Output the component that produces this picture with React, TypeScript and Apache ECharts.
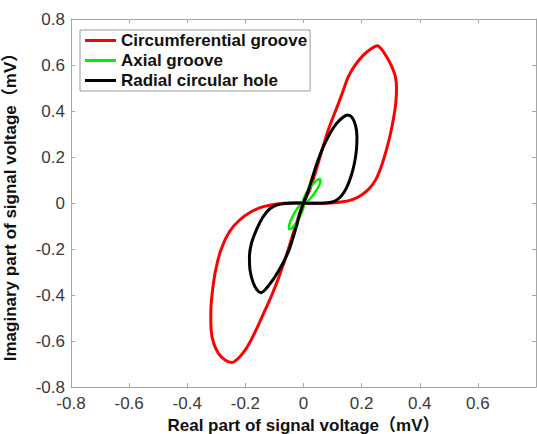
import React, { useEffect, useRef } from "react";
import * as echarts from "echarts";

// Real / imaginary parts of the eddy-current signal (mV) for each defect type.
const circumRe = [
  0, 0.046, 0.092, 0.135, 0.17, 0.2, 0.228, 0.25, 0.268, 0.285, 0.299, 0.31, 0.318, 0.32,
  0.316, 0.303, 0.286, 0.269, 0.254, 0.234, 0.206, 0.177, 0.154, 0.137, 0.12, 0.102, 0.089,
  0.074, 0.057, 0.04, 0.022, 0.008, 0, -0.008, -0.02, -0.036, -0.052, -0.069, -0.087, -0.109,
  -0.132, -0.155, -0.178, -0.201, -0.224, -0.247, -0.27, -0.292, -0.309, -0.318, -0.319,
  -0.314, -0.302, -0.283, -0.255, -0.22, -0.18, -0.138, -0.092, -0.046, 0,
];
const circumIm = [
  0, -0.001, 0, 0.005, 0.016, 0.035, 0.065, 0.105, 0.16, 0.23, 0.3, 0.37, 0.44, 0.5, 0.55,
  0.595, 0.636, 0.668, 0.684, 0.672, 0.643, 0.598, 0.548, 0.49, 0.432, 0.374, 0.331, 0.273,
  0.201, 0.129, 0.06, 0.02, 0, -0.025, -0.07, -0.135, -0.2, -0.265, -0.33, -0.4, -0.465,
  -0.53, -0.59, -0.64, -0.675, -0.694, -0.683, -0.655, -0.61, -0.55, -0.48, -0.39, -0.29,
  -0.2, -0.125, -0.074, -0.038, -0.016, -0.004, 0, 0,
];

const axialRe = [
  0, 0.0087, 0.0228, 0.0384, 0.0513, 0.0582, 0.057, 0.0483, 0.0342, 0.0187, 0.0057, -0.0012,
  0, -0.0075, -0.0196, -0.033, -0.0441, -0.0501, -0.049, -0.0415, -0.0294, -0.0161, -0.0049,
  0.001, 0,
];
const axialIm = [
  0, 0.0027, 0.0185, 0.0433, 0.0704, 0.0925, 0.1039, 0.1012, 0.0854, 0.0606, 0.0335, 0.0114,
  0, -0.003, -0.0204, -0.0476, -0.0774, -0.1018, -0.1143, -0.1113, -0.0939, -0.0667, -0.0369,
  -0.0125, 0,
];

const radialRe = [
  0, 0.03, 0.06, 0.09, 0.113, 0.131, 0.148, 0.163, 0.175, 0.182, 0.184, 0.179, 0.167, 0.152,
  0.137, 0.114, 0.091, 0.068, 0.046, 0.028, 0.013, 0, -0.012, -0.024, -0.037, -0.05, -0.066,
  -0.087, -0.109, -0.132, -0.147, -0.16, -0.174, -0.184, -0.186, -0.179, -0.162, -0.14,
  -0.116, -0.09, -0.06, -0.03, 0,
];
const radialIm = [
  0, -0.001, -0.001, 0.002, 0.012, 0.032, 0.066, 0.114, 0.172, 0.23, 0.288, 0.338, 0.372,
  0.383, 0.374, 0.346, 0.302, 0.244, 0.172, 0.1, 0.042, 0, -0.045, -0.1, -0.155, -0.205,
  -0.25, -0.298, -0.341, -0.377, -0.39, -0.378, -0.343, -0.292, -0.233, -0.175, -0.117,
  -0.062, -0.025, -0.008, -0.002, 0, 0,
];

const seriesNames = ["Circumferential groove", "Axial groove", "Radial circular hole"];
const seriesColors = ["#ff0000", "#00ee00", "#000000"];
const seriesWidths = [3, 2.5, 3];

const zip = (re: number[], im: number[]) => re.map((v, i) => [v, im[i]]);

const FONT = "'Liberation Sans', Arial, 'Noto Sans CJK SC', sans-serif";
const AXIS_GRAY = "#a6a6a6";
const LABEL_GRAY = "#3a3a3a";

export default function App() {
  const ref = useRef<HTMLDivElement>(null);

  useEffect(() => {
    if (!ref.current) return;
    const chart = echarts.init(ref.current, undefined, { renderer: "svg" });

    const tickAxisCommon = {
      type: "value" as const,
      min: -0.8,
      max: 0.8,
      interval: 0.2,
      splitLine: { show: false },
      axisLine: { show: true, onZero: false, lineStyle: { color: AXIS_GRAY, width: 1 } },
      axisTick: { show: true, inside: true, length: 4, lineStyle: { color: AXIS_GRAY } },
    };

    const curves = [
      zip(circumRe, circumIm),
      zip(axialRe, axialIm),
      zip(radialRe, radialIm),
    ];

    chart.setOption({
      animation: false,
      backgroundColor: "#ffffff",
      textStyle: { fontFamily: FONT },
      grid: {
        left: 71,
        right: 1,
        top: 19,
        bottom: 47,
        containLabel: false,
        outerBoundsMode: "none",
      },
      legend: {
        orient: "vertical",
        left: 80,
        top: 30,
        padding: [2, 3, 2, 5],
        icon: "rect",
        itemWidth: 31,
        itemHeight: 3,
        itemGap: 3,
        borderColor: "#9a9a9a",
        borderWidth: 1,
        backgroundColor: "#ffffff",
        textStyle: { fontFamily: FONT, fontSize: 17, fontWeight: "bold", color: "#111" },
        data: seriesNames,
      },
      xAxis: [
        {
          ...tickAxisCommon,
          position: "bottom",
          name: "Real part of signal voltage（mV）",
          nameLocation: "middle",
          nameGap: 27,
          nameTextStyle: { fontFamily: FONT, fontSize: 17, fontWeight: "bold", color: "#111" },
          axisLabel: {
            show: true,
            margin: 8,
            fontSize: 17,
            color: LABEL_GRAY,
            fontFamily: FONT,
            showMaxLabel: false,
          },
        },
        {
          ...tickAxisCommon,
          position: "top",
          axisLabel: { show: false },
        },
      ],
      yAxis: [
        {
          ...tickAxisCommon,
          position: "left",
          name: "Imaginary part of signal voltage（mV）",
          nameLocation: "middle",
          nameGap: 52,
          nameRotate: 90,
          nameTextStyle: { fontFamily: FONT, fontSize: 17, fontWeight: "bold", color: "#111" },
          axisLabel: { show: true, margin: 6, fontSize: 17, color: LABEL_GRAY, fontFamily: FONT },
        },
        {
          ...tickAxisCommon,
          position: "right",
          axisLabel: { show: false },
        },
      ],
      series: curves.map((data, i) => ({
        name: seriesNames[i],
        type: "line",
        xAxisIndex: 0,
        yAxisIndex: 0,
        data,
        symbol: "none",
        smooth: 0.3,
        lineStyle: { color: seriesColors[i], width: seriesWidths[i] },
        itemStyle: { color: seriesColors[i] },
      })),
    });

    return () => chart.dispose();
  }, []);

  return (
    <div
      ref={ref}
      style={{ position: "fixed", left: 0, top: 0, width: 537, height: 434, background: "#fff" }}
    />
  );
}
